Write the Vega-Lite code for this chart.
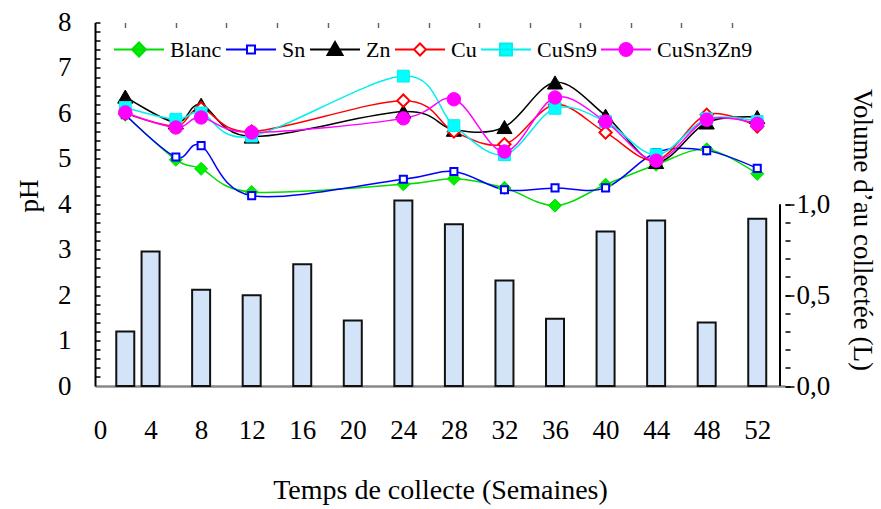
{
  "$schema": "https://vega.github.io/schema/vega-lite/v6.json",
  "width": 690,
  "height": 363.5,
  "autosize": {"type": "none"},
  "padding": {"left": 95, "top": 22.5, "right": 96, "bottom": 123},
  "background": "white",
  "config": {
    "font": "Liberation Serif",
    "view": {"stroke": null},
    "axis": {"grid": false, "labelFont": "Liberation Serif", "titleFont": "Liberation Serif", "labelColor": "black", "titleColor": "black", "titleFontWeight": "normal", "labelOverlap": false},
    "legend": {"labelFont": "Liberation Serif"}
  },
  "datasets": {
    "ph": [
      {"serie": "Blanc", "semaine": 2, "pH": 5.97},
      {"serie": "Blanc", "semaine": 6, "pH": 4.98},
      {"serie": "Blanc", "semaine": 8, "pH": 4.78},
      {"serie": "Blanc", "semaine": 12, "pH": 4.27},
      {"serie": "Blanc", "semaine": 24, "pH": 4.44},
      {"serie": "Blanc", "semaine": 28, "pH": 4.56},
      {"serie": "Blanc", "semaine": 32, "pH": 4.36},
      {"serie": "Blanc", "semaine": 36, "pH": 3.97},
      {"serie": "Blanc", "semaine": 40, "pH": 4.43},
      {"serie": "Blanc", "semaine": 44, "pH": 4.87},
      {"serie": "Blanc", "semaine": 48, "pH": 5.21},
      {"serie": "Blanc", "semaine": 52, "pH": 4.67},
      {"serie": "Sn", "semaine": 2, "pH": 5.97},
      {"serie": "Sn", "semaine": 6, "pH": 5.04},
      {"serie": "Sn", "semaine": 8, "pH": 5.29},
      {"serie": "Sn", "semaine": 12, "pH": 4.19},
      {"serie": "Sn", "semaine": 24, "pH": 4.55},
      {"serie": "Sn", "semaine": 28, "pH": 4.72},
      {"serie": "Sn", "semaine": 32, "pH": 4.32},
      {"serie": "Sn", "semaine": 36, "pH": 4.36},
      {"serie": "Sn", "semaine": 40, "pH": 4.36},
      {"serie": "Sn", "semaine": 44, "pH": 5.14},
      {"serie": "Sn", "semaine": 48, "pH": 5.18},
      {"serie": "Sn", "semaine": 52, "pH": 4.79},
      {"serie": "Zn", "semaine": 2, "pH": 6.37},
      {"serie": "Zn", "semaine": 6, "pH": 5.8},
      {"serie": "Zn", "semaine": 8, "pH": 6.19},
      {"serie": "Zn", "semaine": 12, "pH": 5.49},
      {"serie": "Zn", "semaine": 24, "pH": 6.04},
      {"serie": "Zn", "semaine": 28, "pH": 5.64},
      {"serie": "Zn", "semaine": 32, "pH": 5.7},
      {"serie": "Zn", "semaine": 36, "pH": 6.68},
      {"serie": "Zn", "semaine": 40, "pH": 5.95},
      {"serie": "Zn", "semaine": 44, "pH": 4.93},
      {"serie": "Zn", "semaine": 48, "pH": 5.8},
      {"serie": "Zn", "semaine": 52, "pH": 5.92},
      {"serie": "Cu", "semaine": 2, "pH": 6.0},
      {"serie": "Cu", "semaine": 6, "pH": 5.72},
      {"serie": "Cu", "semaine": 8, "pH": 6.11},
      {"serie": "Cu", "semaine": 12, "pH": 5.6},
      {"serie": "Cu", "semaine": 24, "pH": 6.28},
      {"serie": "Cu", "semaine": 28, "pH": 5.6},
      {"serie": "Cu", "semaine": 32, "pH": 5.32},
      {"serie": "Cu", "semaine": 36, "pH": 6.19},
      {"serie": "Cu", "semaine": 40, "pH": 5.58},
      {"serie": "Cu", "semaine": 44, "pH": 4.97},
      {"serie": "Cu", "semaine": 48, "pH": 5.97},
      {"serie": "Cu", "semaine": 52, "pH": 5.71},
      {"serie": "CuSn9", "semaine": 2, "pH": 6.13},
      {"serie": "CuSn9", "semaine": 6, "pH": 5.87},
      {"serie": "CuSn9", "semaine": 8, "pH": 6.01},
      {"serie": "CuSn9", "semaine": 12, "pH": 5.5},
      {"serie": "CuSn9", "semaine": 24, "pH": 6.82},
      {"serie": "CuSn9", "semaine": 28, "pH": 5.73},
      {"serie": "CuSn9", "semaine": 32, "pH": 5.09},
      {"serie": "CuSn9", "semaine": 36, "pH": 6.11},
      {"serie": "CuSn9", "semaine": 40, "pH": 5.82},
      {"serie": "CuSn9", "semaine": 44, "pH": 5.09},
      {"serie": "CuSn9", "semaine": 48, "pH": 5.88},
      {"serie": "CuSn9", "semaine": 52, "pH": 5.82},
      {"serie": "CuSn3Zn9", "semaine": 2, "pH": 6.02},
      {"serie": "CuSn3Zn9", "semaine": 6, "pH": 5.69},
      {"serie": "CuSn3Zn9", "semaine": 8, "pH": 5.91},
      {"serie": "CuSn3Zn9", "semaine": 12, "pH": 5.58},
      {"serie": "CuSn3Zn9", "semaine": 24, "pH": 5.89},
      {"serie": "CuSn3Zn9", "semaine": 28, "pH": 6.31},
      {"serie": "CuSn3Zn9", "semaine": 32, "pH": 5.16},
      {"serie": "CuSn3Zn9", "semaine": 36, "pH": 6.35},
      {"serie": "CuSn3Zn9", "semaine": 40, "pH": 5.82},
      {"serie": "CuSn3Zn9", "semaine": 44, "pH": 4.96},
      {"serie": "CuSn3Zn9", "semaine": 48, "pH": 5.86},
      {"serie": "CuSn3Zn9", "semaine": 52, "pH": 5.77}
    ],
    "vol": [
      {"semaine": 2, "volume": 0.30},
      {"semaine": 4, "volume": 0.74},
      {"semaine": 8, "volume": 0.53},
      {"semaine": 12, "volume": 0.50},
      {"semaine": 16, "volume": 0.67},
      {"semaine": 20, "volume": 0.36},
      {"semaine": 24, "volume": 1.02},
      {"semaine": 28, "volume": 0.89},
      {"semaine": 32, "volume": 0.58},
      {"semaine": 36, "volume": 0.37},
      {"semaine": 40, "volume": 0.85},
      {"semaine": 44, "volume": 0.91},
      {"semaine": 48, "volume": 0.35},
      {"semaine": 52, "volume": 0.92}
    ],
    "axe": [{"bas": 0, "haut": 1, "pos": 53.8}]
  },
  "layer": [
    {
      "layer": [
        {
          "data": {"name": "vol"},
          "mark": {"type": "bar", "width": 18, "fill": "#d3e4f8", "stroke": "#111111", "strokeWidth": 2},
          "encoding": {
            "x": {
              "field": "semaine", "type": "quantitative",
              "scale": {"domain": [0, 53.8], "nice": false, "zero": true},
              "axis": {
                "values": [0, 4, 8, 12, 16, 20, 24, 28, 32, 36, 40, 44, 48, 52],
                "ticks": false,
                "labelFontSize": 27,
                "labelPadding": 31,
                "domainColor": "#888888",
                "domainWidth": 2.5,
                "title": "Temps de collecte (Semaines)",
                "titleFontSize": 28,
                "titleX": 345,
                "titleY": 104,
                "titleBaseline": "middle",
                "titleAlign": "center"
              }
            },
            "y": {
              "field": "volume", "type": "quantitative",
              "scale": {"domain": [0, 2], "nice": false},
              "axis": {
                "orient": "right",
                "values": [0, 0.5, 1],
                "labelExpr": "replace(format(datum.value, '.1f'), '.', ',')",
                "labelFontSize": 27,
                "labelPadding": 2,
                "tickSize": 9,
                "tickColor": "black",
                "tickWidth": 1.5,
                "domain": false,
                "title": "Volume d’au collectée  (L)",
                "titleFontSize": 27,
                "titleAngle": 90,
                "titleX": 76,
                "titleY": 207,
                "titleBaseline": "middle",
                "titleAlign": "center"
              }
            }
          }
        },
        {
          "data": {"name": "axe"},
          "mark": {"type": "rule", "stroke": "black", "strokeWidth": 2},
          "encoding": {
            "x": {"field": "pos", "type": "quantitative"},
            "y": {
              "field": "bas", "type": "quantitative",
              "axis": {
                "orient": "right",
                "values": [0, 0.1, 0.2, 0.3, 0.4, 0.5, 0.6, 0.7, 0.8, 0.9, 1.0],
                "labels": false,
                "tickSize": 5,
                "tickColor": "black",
                "tickWidth": 1.5,
                "domain": false,
                "title": null
              }
            },
            "y2": {"field": "haut"}
          }
        }
      ],
      "resolve": {"axis": {"y": "independent"}}
    },
    {
      "data": {"name": "ph"},
      "layer": [
        {
          "mark": {"type": "line", "interpolate": "cardinal", "strokeWidth": 1.5},
          "encoding": {
            "x": {
              "field": "semaine", "type": "quantitative",
              "axis": {
                "values": [2, 4, 6, 8, 10, 12, 14, 16, 18, 20, 22, 24, 26, 28, 30, 32, 34, 36, 38, 40, 42, 44, 46, 48, 50, 52],
                "labels": false,
                "domain": false,
                "offset": -5,
                "tickSize": 5,
                "tickColor": "#666666",
                "tickWidth": 1.5,
                "title": null
              }
            },
            "y": {
              "field": "pH", "type": "quantitative",
              "scale": {"domain": [0, 8], "nice": false},
              "axis": {
                "orient": "left",
                "values": [0.2, 0.4, 0.6, 0.8, 1, 1.2, 1.4, 1.6, 1.8, 2, 2.2, 2.4, 2.6, 2.8, 3, 3.2, 3.4, 3.6, 3.8, 4, 4.2, 4.4, 4.6, 4.8, 5, 5.2, 5.4, 5.6, 5.8, 6, 6.2, 6.4, 6.6, 6.8, 7, 7.2, 7.4, 7.6, 7.8, 8],
                "labels": false,
                "domain": false,
                "offset": -5,
                "tickSize": 5,
                "tickColor": "black",
                "tickWidth": 1.5,
                "title": null
              }
            },
            "detail": {"field": "serie"},
            "stroke": {
              "field": "serie", "type": "nominal",
              "scale": {"domain": ["Blanc", "Sn", "Zn", "Cu", "CuSn9", "CuSn3Zn9"], "range": ["#00dd00", "#0000ff", "#000000", "#ff0000", "#00eeee", "#ff00ff"]},
              "legend": {
                "orient": "none",
                "legendX": 18,
                "legendY": 1,
                "direction": "horizontal",
                "columns": 6,
                "title": null,
                "symbolSize": 2500,
                "labelFontSize": 22,
                "labelFont": "Liberation Serif",
                "labelColor": "black",
                "labelOffset": 5,
                "columnPadding": 0,
                "labelLimit": 0,
                "encode": {
                  "symbols": {
                    "update": {
                      "shape": {"signal": "datum.value == 'Blanc' ? 'M-1,0H1M0,-0.28L0.28,0L0,0.28L-0.28,0Z' : datum.value == 'Sn' ? 'M-1,0H-0.16M0.16,0H1M-0.16,-0.16H0.16V0.16H-0.16Z' : datum.value == 'Zn' ? 'M-1,0H1M0,-0.3L0.3,0.22L-0.3,0.22Z' : datum.value == 'Cu' ? 'M-1,0H-0.24M0.24,0H1M0,-0.24L0.24,0L0,0.24L-0.24,0Z' : datum.value == 'CuSn9' ? 'M-1,0H1M-0.24,-0.24H0.24V0.24H-0.24Z' : 'M-1,0H1M-0.26,0A0.26,0.26,0,1,1,0.26,0A0.26,0.26,0,1,1,-0.26,0Z'"},
                      "fill": {"signal": "datum.value == 'Blanc' ? '#00ee00' : datum.value == 'Sn' ? '#ffffff' : datum.value == 'Zn' ? '#000000' : datum.value == 'Cu' ? '#ffffff' : datum.value == 'CuSn9' ? '#00ffff' : '#ff00ff'"},
                      "size": {"value": 2500},
                      "strokeWidth": {"value": 2},
                      "opacity": {"value": 1},
                      "fillOpacity": {"value": 1},
                      "strokeOpacity": {"value": 1}
                    }
                  }
                }
              }
            }
          }
        },
        {
          "layer": [
            {
              "transform": [{"filter": "datum.serie == 'Blanc'"}],
              "mark": {"type": "point", "shape": "diamond", "size": 170, "filled": true, "fill": "#00ee00", "stroke": "#00dd00", "strokeWidth": 1, "opacity": 1},
              "encoding": {
                "x": {"field": "semaine", "type": "quantitative"},
                "y": {
                  "field": "pH", "type": "quantitative",
                  "axis": {
                    "orient": "left",
                    "values": [0, 1, 2, 3, 4, 5, 6, 7, 8],
                    "ticks": false,
                    "labelFontSize": 27,
                    "labelPadding": 24,
                    "domainColor": "black",
                    "domainWidth": 2,
                    "title": "pH",
                    "titleFontSize": 27,
                    "titleAngle": -90,
                    "titleX": -66,
                    "titleY": 173,
                    "titleBaseline": "middle",
                    "titleAlign": "center"
                  }
                }
              }
            },
            {
              "transform": [{"filter": "datum.serie == 'Sn'"}],
              "mark": {"type": "point", "shape": "square", "size": 50, "filled": false, "fill": "#ffffff", "fillOpacity": 1, "stroke": "#0000ff", "strokeWidth": 2, "opacity": 1},
              "encoding": {
                "x": {"field": "semaine", "type": "quantitative"},
                "y": {"field": "pH", "type": "quantitative"}
              }
            },
            {
              "transform": [{"filter": "datum.serie == 'Zn'"}],
              "mark": {"type": "point", "shape": "triangle-up", "size": 230, "filled": true, "fill": "#000000", "stroke": "#000000", "strokeWidth": 1, "opacity": 1},
              "encoding": {
                "x": {"field": "semaine", "type": "quantitative"},
                "y": {"field": "pH", "type": "quantitative"}
              }
            },
            {
              "transform": [{"filter": "datum.serie == 'Cu'"}],
              "mark": {"type": "point", "shape": "diamond", "size": 150, "filled": false, "fill": "#ffffff", "fillOpacity": 1, "stroke": "#ff0000", "strokeWidth": 2, "opacity": 1},
              "encoding": {
                "x": {"field": "semaine", "type": "quantitative"},
                "y": {"field": "pH", "type": "quantitative"}
              }
            },
            {
              "transform": [{"filter": "datum.serie == 'CuSn9'"}],
              "mark": {"type": "point", "shape": "square", "size": 140, "filled": true, "fill": "#00ffff", "stroke": "#00eeee", "strokeWidth": 1, "opacity": 1},
              "encoding": {
                "x": {"field": "semaine", "type": "quantitative"},
                "y": {"field": "pH", "type": "quantitative"}
              }
            },
            {
              "transform": [{"filter": "datum.serie == 'CuSn3Zn9'"}],
              "mark": {"type": "point", "shape": "circle", "size": 180, "filled": true, "fill": "#ff00ff", "stroke": "#ff00ff", "strokeWidth": 1, "opacity": 1},
              "encoding": {
                "x": {"field": "semaine", "type": "quantitative"},
                "y": {"field": "pH", "type": "quantitative"}
              }
            }
          ]
        }
      ],
      "resolve": {"axis": {"y": "independent"}}
    }
  ],
  "resolve": {"scale": {"y": "independent"}, "axis": {"x": "independent"}}
}
